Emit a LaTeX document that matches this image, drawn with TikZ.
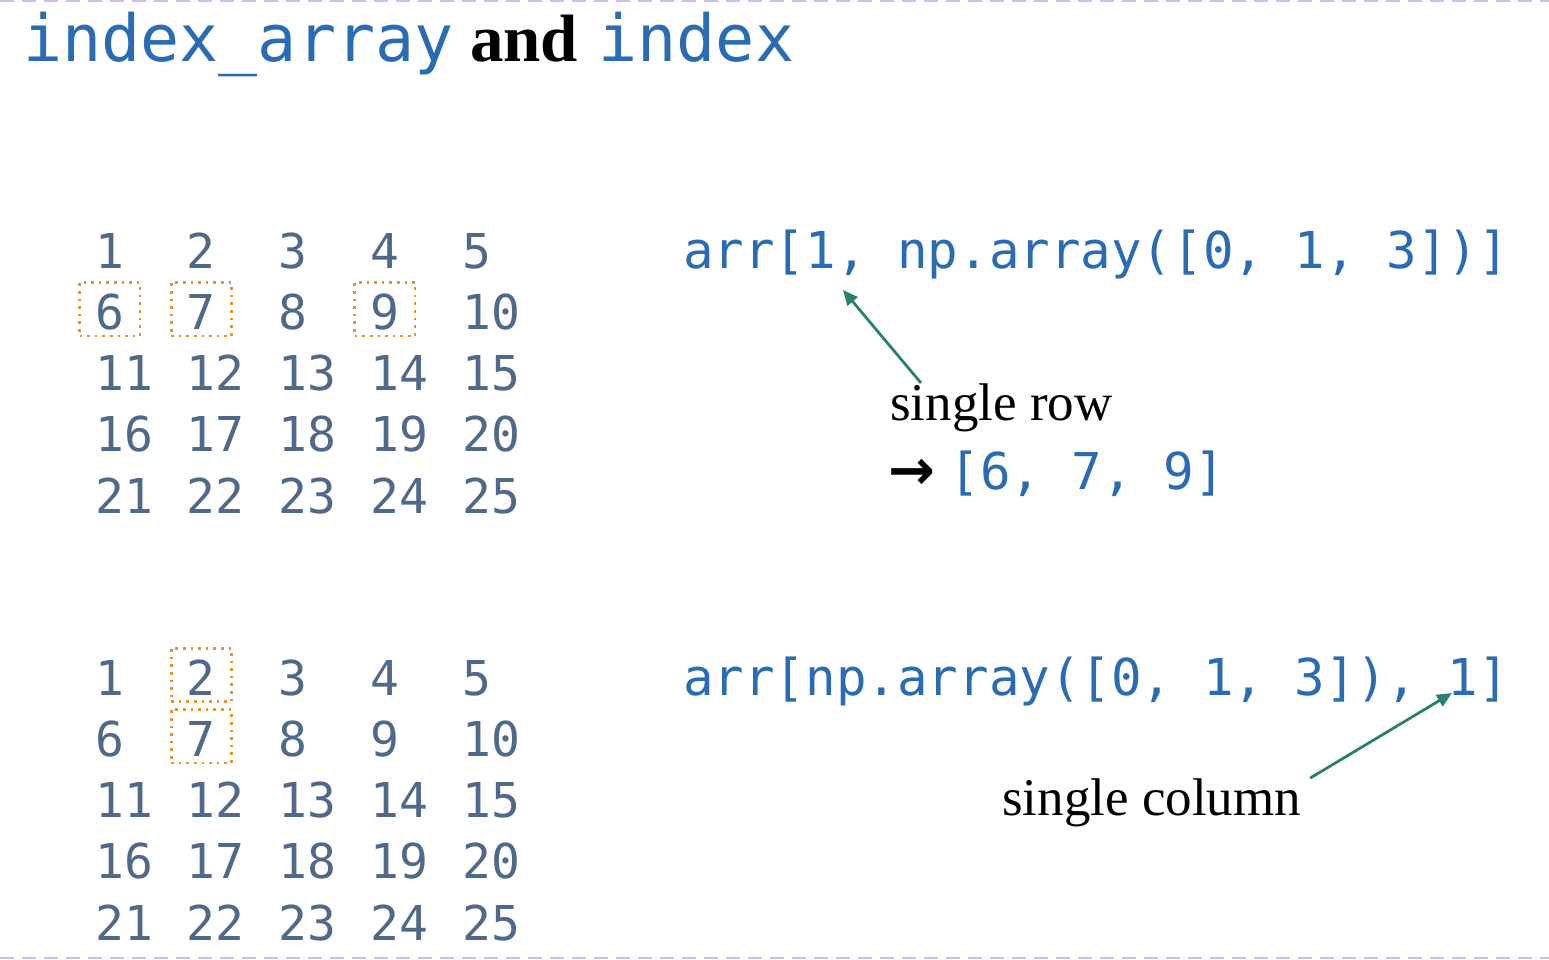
\documentclass[tikz,border=0pt]{standalone}
\usepackage{fontspec}
\setmainfont{Liberation Serif}
\setmonofont{DejaVu Sans Mono}
\newfontfamily\symbfam{DejaVu Sans}
\usepackage{tikz}
\usetikzlibrary{math}
\usetikzlibrary{calc}
\usetikzlibrary{fit}
\usetikzlibrary{positioning}
\usetikzlibrary{arrows.meta}

\definecolor{numgray}{HTML}{50688A}
\definecolor{codeblue}{HTML}{2A6BB5}
\definecolor{pickorange}{HTML}{E0962A}
\definecolor{pointteal}{HTML}{2A806E}
\definecolor{framelav}{HTML}{CDBDF2}

\newcommand\gridfnt{\fontsize{48}{58}\selectfont\ttfamily}
\newcommand\codefnt{\fontsize{50.8}{60}\selectfont\ttfamily}
\newcommand\titlefnt{\fontsize{65}{76}\selectfont\ttfamily}
\newcommand\labelfnt{\fontsize{53}{63}\selectfont}

\tikzset{
  cell/.style={font=\gridfnt, text=numgray, inner sep=0pt, anchor=base west,
    text height=40pt, text depth=0pt},
  pickbox/.style={draw=pickorange, line width=2.6pt, dash pattern=on 2.6pt off 5pt,
    inner xsep=15.5pt, inner ysep=6.5pt},
  codeline/.style={font=\codefnt, text=codeblue, inner sep=0pt, anchor=base west},
  lbl/.style={font=\labelfnt, text=black, inner sep=0pt, anchor=base west},
  pointer/.style={draw=pointteal, line width=2.8pt, -{Triangle[length=15pt,width=13pt]}},
  frame/.style={draw=framelav, line width=2pt, dash pattern=on 14pt off 8pt}
}

\begin{document}
\begin{tikzpicture}[x=1pt,y=-1pt]
    \useasboundingbox (0,0) rectangle (1549,960);
    \tikzmath{\gx = 95; \gdx = 91.75; \gdy = 61.3; \guy = 268; \gly = 695;}
    \draw[frame] (0,1) -- (1549,1);
    \draw[frame] (0,958) -- (1549,958);
    % title
    \node[font=\titlefnt, text=codeblue, inner sep=0pt, anchor=base west] (title1) at (23,62) {index\_array};
    \node[font=\fontsize{67}{78}\selectfont\bfseries, inner sep=0pt, right=16pt of title1.base east, anchor=base west] (title2) {and};
    \node[font=\titlefnt, text=codeblue, inner sep=0pt, right=20pt of title2.base east, anchor=base west] (title3) {index};
    % the two grids
    \foreach \r in {0,...,4} {
        \foreach \c in {0,...,4} {
            \pgfmathtruncatemacro{\n}{5*\r+\c+1}
            \node[cell] (u\n) at (\gx+\c*\gdx, \guy+\r*\gdy) {\n};
            \node[cell] (l\n) at (\gx+\c*\gdx, \gly+\r*\gdy) {\n};
        }
    }
    \foreach \p in {u6,u7,u9,l2,l7} {
        \node[pickbox, fit=(\p)] {};
    }
    % upper example
    \node[codeline] (code1) at (683,268) {arr[1, np.array([0, 1, 3])]};
    \coordinate (rowtip) at (843,290);
    \node[lbl] (rowlbl) at (890,420) {single row};
    \node[font=\symbfam\bfseries\fontsize{56}{66}\selectfont, inner sep=0pt, anchor=base west] (rowarr) at (888,489) {→};
    \node[codeline, right=14pt of rowarr.base east, anchor=base west] (rowres) {[6, 7, 9]};
    \draw[pointer] ($(rowlbl.north west)+(31,0)$) -- (rowtip);
    % lower example
    \node[codeline] (code2) at (683,695) {arr[np.array([0, 1, 3]), 1]};
    \coordinate (coltip) at (1452,693);
    \node[lbl] (collbl) at (1002,815) {single column};
    \draw[pointer] ($(collbl.north east)+(9,0)$) -- (coltip);
\end{tikzpicture}
\end{document}
